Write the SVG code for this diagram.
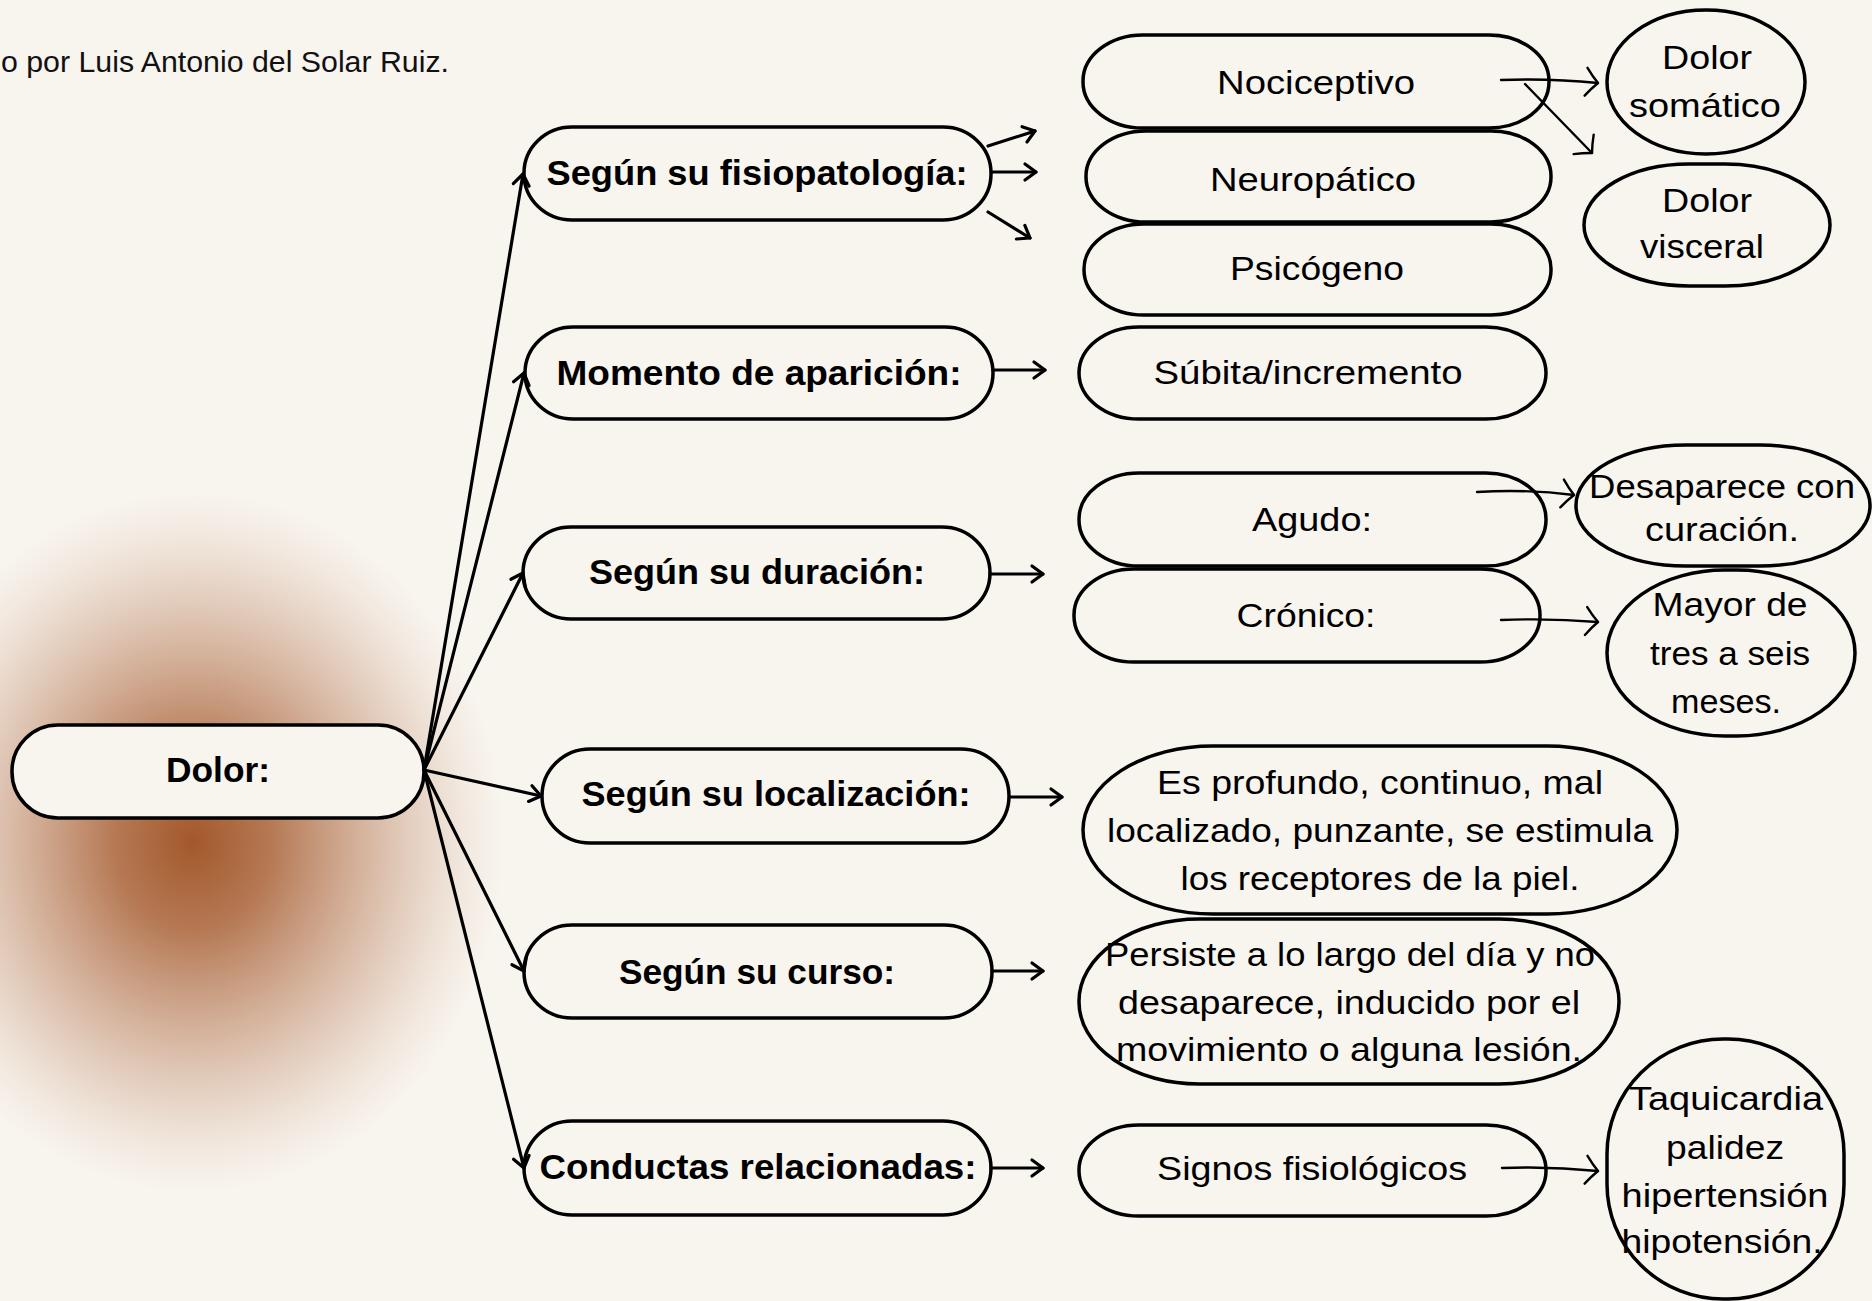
<svg xmlns="http://www.w3.org/2000/svg" width="1872" height="1301" viewBox="0 0 1872 1301">
<defs>
<radialGradient id="glow">
<stop offset="0" stop-color="#A3582B" stop-opacity="1"/>
<stop offset="0.25" stop-color="#A65D31" stop-opacity="0.82"/>
<stop offset="0.5" stop-color="#AC673E" stop-opacity="0.52"/>
<stop offset="0.75" stop-color="#B47650" stop-opacity="0.24"/>
<stop offset="0.9" stop-color="#BC8460" stop-opacity="0.08"/>
<stop offset="1" stop-color="#C08A67" stop-opacity="0"/>
</radialGradient>
<marker id="ah" markerWidth="14" markerHeight="20" refX="12" refY="10" orient="auto" markerUnits="userSpaceOnUse" overflow="visible">
<path d="M1,2 L12,10 L1,18" fill="none" stroke="#000" stroke-width="3.2" stroke-linecap="round" stroke-linejoin="round"/>
</marker>
<marker id="ah2" markerWidth="16" markerHeight="30" refX="14" refY="15" orient="auto" markerUnits="userSpaceOnUse" overflow="visible">
<path d="M2,1 Q8,9 14,15 Q8,21 2,29" fill="none" stroke="#000" stroke-width="2.4" stroke-linecap="round" stroke-linejoin="round"/>
</marker>
</defs>
<style>
.bg{fill:#F8F4EE}
.n{fill:#F8F4EE;stroke:#000;stroke-width:3.5}
.b{font-family:"Liberation Sans",Arial,sans-serif;font-weight:bold;font-size:35px;fill:#000;text-anchor:middle}
.r{font-family:"Liberation Sans",Arial,sans-serif;font-size:34px;fill:#000;text-anchor:middle}
.c{fill:none;stroke:#000;stroke-width:3.2;stroke-linecap:round}
.c2{fill:none;stroke:#000;stroke-width:2.4;stroke-linecap:round}
</style>
<rect class="bg" x="0" y="0" width="1872" height="1301"/>
<ellipse cx="193" cy="842" rx="310" ry="350" fill="url(#glow)"/>
<text x="1" y="72" font-family="'Liberation Sans',Arial,sans-serif" font-size="30" fill="#111" textLength="448" lengthAdjust="spacingAndGlyphs">o por Luis Antonio del Solar Ruiz.</text>

<g id="dolor"><rect class="n" x="12" y="725" width="412" height="93" rx="46" ry="46"/><text class="b" x="218" y="782" textLength="104" lengthAdjust="spacingAndGlyphs">Dolor:</text></g>

<g id="fisiopatologia"><rect class="n" x="524" y="127" width="467" height="93" rx="48" ry="46"/><text class="b" x="757" y="185" textLength="421" lengthAdjust="spacingAndGlyphs">Según su fisiopatología:</text></g>
<g id="momento"><rect class="n" x="525" y="327" width="468" height="92" rx="48" ry="46"/><text class="b" x="759" y="385" textLength="405" lengthAdjust="spacingAndGlyphs">Momento de aparición:</text></g>
<g id="duracion"><rect class="n" x="523" y="527" width="467" height="92" rx="48" ry="46"/><text class="b" x="757" y="584" textLength="336" lengthAdjust="spacingAndGlyphs">Según su duración:</text></g>
<g id="localizacion"><rect class="n" x="542" y="749" width="467" height="94" rx="48" ry="47"/><text class="b" x="776" y="806" textLength="389" lengthAdjust="spacingAndGlyphs">Según su localización:</text></g>
<g id="curso"><rect class="n" x="524" y="925" width="468" height="93" rx="48" ry="46"/><text class="b" x="757" y="984" textLength="276" lengthAdjust="spacingAndGlyphs">Según su curso:</text></g>
<g id="conductas"><rect class="n" x="524" y="1121" width="467" height="94" rx="48" ry="47"/><text class="b" x="758" y="1179" textLength="437" lengthAdjust="spacingAndGlyphs">Conductas relacionadas:</text></g>

<g id="nociceptivo"><rect class="n" x="1083" y="35" width="466" height="93" rx="60" ry="46"/><text class="r" x="1316" y="94" textLength="198" lengthAdjust="spacingAndGlyphs">Nociceptivo</text></g>
<g id="neuropatico"><rect class="n" x="1086" y="131" width="465" height="91" rx="60" ry="45"/><text class="r" x="1313" y="191" textLength="206" lengthAdjust="spacingAndGlyphs">Neuropático</text></g>
<g id="psicogeno"><rect class="n" x="1084" y="224" width="467" height="91" rx="60" ry="45"/><text class="r" x="1317" y="280" textLength="174" lengthAdjust="spacingAndGlyphs">Psicógeno</text></g>
<g id="subita"><rect class="n" x="1079" y="327" width="467" height="92" rx="60" ry="46"/><text class="r" x="1308" y="384" textLength="309" lengthAdjust="spacingAndGlyphs">Súbita/incremento</text></g>
<g id="agudo"><rect class="n" x="1079" y="473" width="467" height="93" rx="60" ry="46"/><text class="r" x="1312" y="531" textLength="120" lengthAdjust="spacingAndGlyphs">Agudo:</text></g>
<g id="cronico"><rect class="n" x="1074" y="569" width="466" height="93" rx="60" ry="46"/><text class="r" x="1306" y="627" textLength="139" lengthAdjust="spacingAndGlyphs">Crónico:</text></g>
<g id="profundo"><rect class="n" x="1083" y="746" width="594" height="168" rx="130" ry="84"/>
<text class="r" x="1380" y="794" textLength="446" lengthAdjust="spacingAndGlyphs">Es profundo, continuo, mal</text>
<text class="r" x="1380" y="842" textLength="546" lengthAdjust="spacingAndGlyphs">localizado, punzante, se estimula</text>
<text class="r" x="1380" y="890" textLength="399" lengthAdjust="spacingAndGlyphs">los receptores de la piel.</text></g>
<g id="persiste"><rect class="n" x="1079" y="919" width="540" height="165" rx="120" ry="82"/>
<text class="r" x="1350" y="966" textLength="490" lengthAdjust="spacingAndGlyphs">Persiste a lo largo del día y no</text>
<text class="r" x="1349" y="1014" textLength="462" lengthAdjust="spacingAndGlyphs">desaparece, inducido por el</text>
<text class="r" x="1349" y="1061" textLength="466" lengthAdjust="spacingAndGlyphs">movimiento o alguna lesión.</text></g>
<g id="signos"><rect class="n" x="1079" y="1125" width="467" height="91" rx="60" ry="45"/><text class="r" x="1312" y="1180" textLength="310" lengthAdjust="spacingAndGlyphs">Signos fisiológicos</text></g>

<g id="somatico"><ellipse class="n" cx="1706" cy="82" rx="99" ry="72"/>
<text class="r" x="1707" y="69" textLength="90" lengthAdjust="spacingAndGlyphs">Dolor</text>
<text class="r" x="1705" y="117" textLength="152" lengthAdjust="spacingAndGlyphs">somático</text></g>
<g id="visceral"><rect class="n" x="1584" y="164" width="246" height="122" rx="105" ry="61"/>
<text class="r" x="1707" y="212" textLength="90" lengthAdjust="spacingAndGlyphs">Dolor</text>
<text class="r" x="1702" y="258" textLength="124" lengthAdjust="spacingAndGlyphs">visceral</text></g>
<g id="desaparece"><rect class="n" x="1576" y="445" width="294" height="121" rx="110" ry="60"/>
<text class="r" x="1722" y="498" textLength="266" lengthAdjust="spacingAndGlyphs">Desaparece con</text>
<text class="r" x="1722" y="541" textLength="154" lengthAdjust="spacingAndGlyphs">curación.</text></g>
<g id="mayor"><rect class="n" x="1607" y="570" width="248" height="166" rx="118" ry="83"/>
<text class="r" x="1730" y="616" textLength="155" lengthAdjust="spacingAndGlyphs">Mayor de</text>
<text class="r" x="1730" y="665" textLength="160" lengthAdjust="spacingAndGlyphs">tres a seis</text>
<text class="r" x="1726" y="713" textLength="110" lengthAdjust="spacingAndGlyphs">meses.</text></g>
<g id="taquicardia"><rect class="n" x="1607" y="1039" width="237" height="260" rx="116" ry="115"/>
<text class="r" x="1726" y="1110" textLength="194" lengthAdjust="spacingAndGlyphs">Taquicardia</text>
<text class="r" x="1725" y="1159" textLength="118" lengthAdjust="spacingAndGlyphs">palidez</text>
<text class="r" x="1725" y="1207" textLength="207" lengthAdjust="spacingAndGlyphs">hipertensión</text>
<text class="r" x="1722" y="1253" textLength="201" lengthAdjust="spacingAndGlyphs">hipotensión.</text></g>

<g id="connectors">
<line class="c" x1="424" y1="770" x2="523" y2="174" marker-end="url(#ah)"/>
<line class="c" x1="424" y1="770" x2="524" y2="373" marker-end="url(#ah)"/>
<line class="c" x1="424" y1="770" x2="523" y2="573" marker-end="url(#ah)"/>
<line class="c" x1="424" y1="770" x2="541" y2="796" marker-end="url(#ah)"/>
<line class="c" x1="424" y1="770" x2="524" y2="971" marker-end="url(#ah)"/>
<line class="c" x1="424" y1="770" x2="524" y2="1168" marker-end="url(#ah)"/>
<line class="c" x1="988" y1="146" x2="1035" y2="131" marker-end="url(#ah)"/>
<line class="c" x1="992" y1="172" x2="1036" y2="172" marker-end="url(#ah)"/>
<line class="c" x1="988" y1="212" x2="1030" y2="238" marker-end="url(#ah)"/>
<line class="c" x1="993" y1="370" x2="1045" y2="370" marker-end="url(#ah)"/>
<line class="c" x1="990" y1="574" x2="1043" y2="574" marker-end="url(#ah)"/>
<line class="c" x1="1010" y1="797" x2="1062" y2="797" marker-end="url(#ah)"/>
<line class="c" x1="992" y1="971" x2="1043" y2="971" marker-end="url(#ah)"/>
<line class="c" x1="991" y1="1168" x2="1043" y2="1168" marker-end="url(#ah)"/>
<path class="c2" d="M1501,80 Q1550,78 1598,83" marker-end="url(#ah2)"/>
<path class="c2" d="M1525,84 L1592,153" marker-end="url(#ah2)"/>
<path class="c2" d="M1477,492 Q1528,489 1574,495" marker-end="url(#ah2)"/>
<path class="c2" d="M1501,620 Q1550,618 1598,622" marker-end="url(#ah2)"/>
<path class="c2" d="M1502,1168 Q1550,1166 1598,1171" marker-end="url(#ah2)"/>
</g>
</svg>
